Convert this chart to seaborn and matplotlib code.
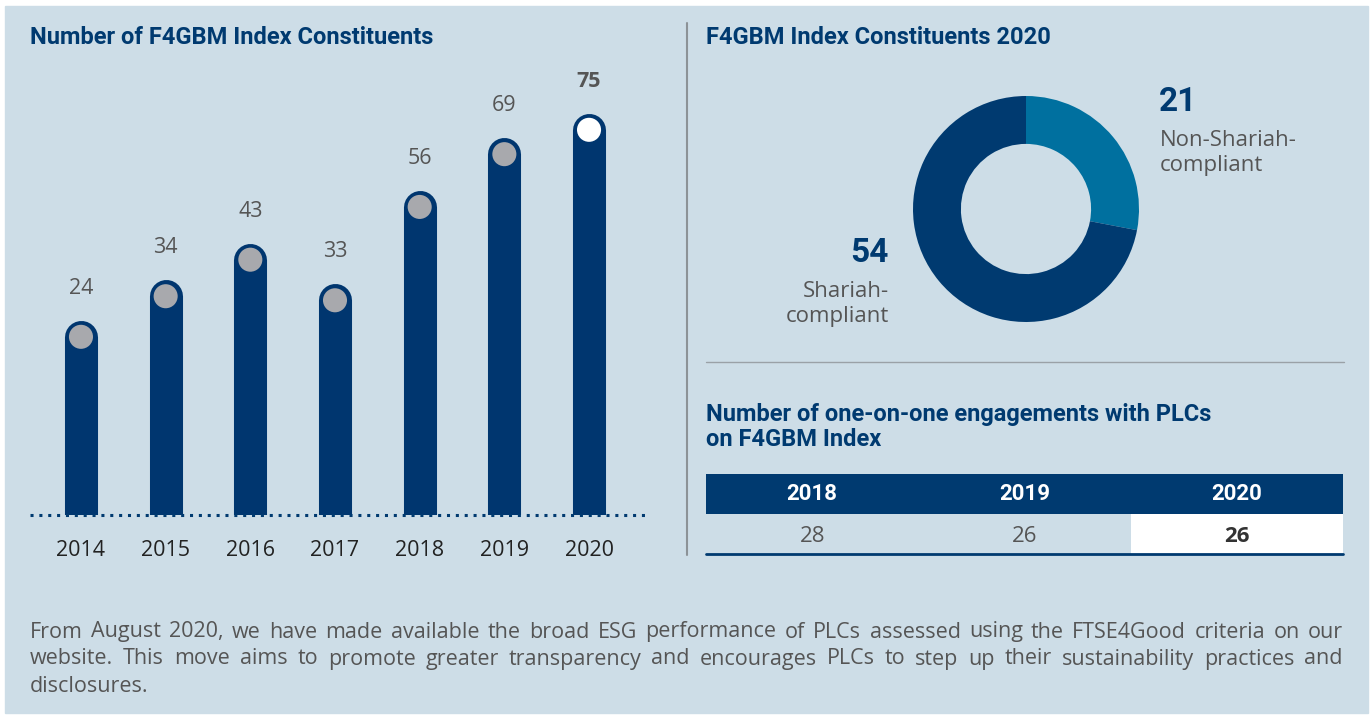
import numpy as np
import pandas as pd
import matplotlib.pyplot as plt
import seaborn as sns
from matplotlib.patches import Rectangle
from matplotlib.lines import Line2D

# =====================================================
# DATA
# =====================================================
years = ['2014', '2015', '2016', '2017', '2018', '2019', '2020']
constituents = [24, 34, 43, 33, 56, 69, 75]

split_numbers = ['21', '54']
split_labels = ['Non-Shariah-\ncompliant', 'Shariah-\ncompliant']
split_values = [21, 54]

eng_years = ['2018', '2019', '2020']
engagements = [28, 26, 26]

title_left = 'Number of F4GBM Index Constituents'
title_right = 'F4GBM Index Constituents 2020'
title_table = ['Number of one-on-one engagements with PLCs', 'on F4GBM Index']
footer_lines = [
    'From August 2020, we have made available the broad ESG performance of PLCs assessed using the FTSE4Good criteria on our',
    'website. This move aims to promote greater transparency and encourages PLCs to step up their sustainability practices and',
    'disclosures.',
]

# =====================================================
# STYLE
# =====================================================
W, H = 1371, 715
BG = '#cddde7'
NAVY = '#003a70'
BAR = '#00366f'
TEAL = '#00709f'
GREY_TXT = '#555555'
DOT = '#a8a9ad'

sns.set_theme(style='white')
plt.rcParams['font.family'] = ['Open Sans', 'DejaVu Sans']
TITLE_FONT = ['Roboto', 'DejaVu Sans']


def fx(x):
    return x / W


def fy(y):
    return 1 - y / H


def rect(x0, y0, x1, y1):
    return [x0 / W, 1 - y1 / H, (x1 - x0) / W, (y1 - y0) / H]


fig = plt.figure(figsize=(W / 100, H / 100), dpi=100, facecolor='white')
bg = fig.add_axes([0, 0, 1, 1])
bg.axis('off')
bg.add_patch(Rectangle((5 / W, 2 / H), 1 - 8 / W, 1 - 8 / H, color=BG, transform=bg.transAxes))

# =====================================================
# LEFT: BAR CHART
# =====================================================
df = pd.DataFrame({'year': years, 'n': constituents})
ymin, ymax = -19.9, 92.2

ax = fig.add_axes(rect(30, 60, 645, 515))
ax.set_facecolor('none')
ax.vlines(df['year'], ymin - 30, df['n'], colors=BAR, linewidth=23.8, capstyle='round', zorder=2)
sns.scatterplot(ax=ax, data=df, x='year', y='n', hue='year',
                palette=[DOT] * (len(years) - 1) + ['white'],
                s=300, edgecolor='none', legend=False, zorder=3)
for i, v in enumerate(df['n']):
    last = i == len(df) - 1
    ax.annotate(str(v), (i, v), xytext=(0, 35), textcoords='offset points',
                ha='center', va='center', fontsize=15.5, color=GREY_TXT,
                fontweight='bold' if last else 'normal')

ax.axhline(ymin, color=NAVY, lw=2.2, linestyle=(0, (1, 1.9)), clip_on=False, zorder=4)
ax.set_xlim(-0.602, 6.661)
ax.set_ylim(ymin, ymax)
ax.set_yticks([])
ax.set(xlabel='', ylabel='')
ax.tick_params(axis='x', length=0, pad=18, labelsize=15.5, labelcolor='#222222')
sns.despine(ax=ax, left=True, bottom=True)

fig.text(fx(30), fy(37), title_left, fontsize=17, fontweight='bold', color=NAVY,
         va='center', family=TITLE_FONT)

fig.add_artist(Line2D([fx(687), fx(687)], [fy(23), fy(555)], color='#8c9297', lw=1.5))

# =====================================================
# RIGHT: DONUT
# =====================================================
fig.text(fx(706), fy(37), title_right, fontsize=17, fontweight='bold', color=NAVY,
         va='center', family=TITLE_FONT)

cx, cy, r = 1026, 209, 113
pax = fig.add_axes(rect(cx - r * 1.05, cy - r * 1.05, cx + r * 1.05, cy + r * 1.05))
pax.pie(split_values, colors=[TEAL, NAVY], startangle=90, counterclock=False,
        radius=1, wedgeprops=dict(width=0.424, linewidth=0))
pax.set_xlim(-1.05, 1.05)
pax.set_ylim(-1.05, 1.05)

fig.text(fx(1159), fy(102), split_numbers[0], fontsize=24, fontweight='bold',
         color=NAVY, va='center', ha='left', family=TITLE_FONT)
fig.text(fx(1160), fy(153), split_labels[0], fontsize=16, color=GREY_TXT,
         va='center', ha='left', linespacing=1.2)
fig.text(fx(889), fy(253), split_numbers[1], fontsize=24, fontweight='bold',
         color=NAVY, va='center', ha='right', family=TITLE_FONT)
fig.text(fx(889), fy(304), split_labels[1], fontsize=16, color=GREY_TXT,
         va='center', ha='right', multialignment='right', linespacing=1.2)

fig.add_artist(Line2D([fx(706), fx(1344)], [fy(362), fy(362)], color='#9aa1a7', lw=1))

# =====================================================
# RIGHT: ENGAGEMENT TABLE
# =====================================================
fig.text(fx(706), fy(414), title_table[0], fontsize=17, fontweight='bold', color=NAVY,
         va='center', family=TITLE_FONT)
fig.text(fx(706), fy(440), title_table[1], fontsize=17, fontweight='bold', color=NAVY,
         va='center', family=TITLE_FONT)

tax = fig.add_axes(rect(706, 474, 1343, 554))
tax.axis('off')
tax.set_xlim(0, len(eng_years))
tax.set_ylim(2, 0)
tax.add_patch(Rectangle((0, 0), len(eng_years), 1, color=NAVY, lw=0))
tax.add_patch(Rectangle((len(eng_years) - 1, 1), 1, 1, color='white', lw=0))
tax.axhline(2, color=NAVY, lw=2, clip_on=False)
for i, (yr, v) in enumerate(zip(eng_years, engagements)):
    last = i == len(eng_years) - 1
    tax.text(i + 0.5, 0.5, yr, ha='center', va='center', color='white',
             fontsize=16, fontweight='bold', family=TITLE_FONT)
    tax.text(i + 0.5, 1.55, str(v), ha='center', va='center',
             color='#333333' if last else GREY_TXT, fontsize=16,
             fontweight='bold' if last else 'normal')

# =====================================================
# FOOTER (justified)
# =====================================================
renderer = fig.canvas.get_renderer()


def justify(line, y, x0, x1, **kw):
    words = line.split()
    texts = [fig.text(0, fy(y), w, va='center', **kw) for w in words]
    widths = [t.get_window_extent(renderer).width for t in texts]
    gap = (x1 - x0 - sum(widths)) / (len(words) - 1)
    x = x0
    for t, w in zip(texts, widths):
        t.set_x(fx(x))
        x += w + gap


for k, line in enumerate(footer_lines):
    y = 632 + 27 * k
    if k < len(footer_lines) - 1:
        justify(line, y, 30, 1343, fontsize=15.5, color=GREY_TXT)
    else:
        fig.text(fx(30), fy(y), line, fontsize=15.5, color=GREY_TXT, va='center')

fig.savefig('out.png', dpi=100, facecolor='white')
